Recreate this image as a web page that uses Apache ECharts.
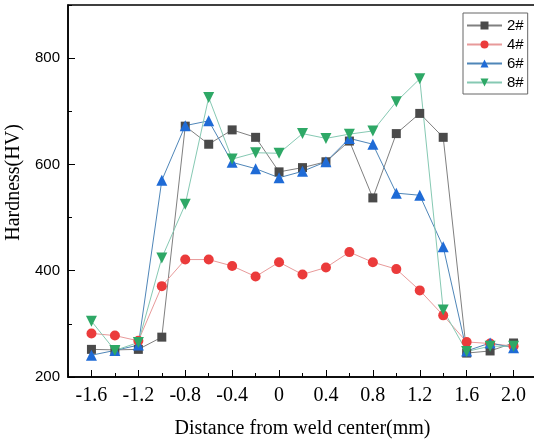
<!DOCTYPE html>
<html>
<head>
<meta charset="utf-8">
<script src="https://cdn.jsdelivr.net/npm/echarts@6/dist/echarts.min.js"></script>
<style>
  html, body { margin: 0; padding: 0; background: #fff; }
  #main { width: 534px; height: 442px; }
</style>
</head>
<body>
<div id="main"></div>
<script>
// distance from weld center (mm)
const xValues = [-1.6, -1.4, -1.2, -1.0, -0.8, -0.6, -0.4, -0.2, 0, 0.2, 0.4, 0.6, 0.8, 1.0, 1.2, 1.4, 1.6, 1.8, 2.0]
// hardness (HV)
const h2 = [252, 251, 252, 275, 672, 638, 665, 651, 586, 594, 605, 644, 537, 658, 696, 651, 245, 249, 264]
const h4 = [282, 278, 268, 371, 421, 421, 409, 389, 416, 393, 406, 435, 416, 403, 363, 316, 266, 263, 258]
const h6 = [241, 250, 260, 570, 673, 682, 604, 592, 575, 587, 605, 649, 638, 546, 542, 445, 249, 264, 255]
const h8 = [305, 250, 265, 424, 525, 726, 610, 622, 621, 658, 649, 657, 663, 718, 761, 326, 248, 258, 258]
const names = ['2#', '4#', '6#', '8#']
const xMajor = [-1.6, -1.2, -0.8, -0.4, 0, 0.4, 0.8, 1.2, 1.6, 2.0]
const yMajor = [200, 400, 600, 800]

const serif = 'Liberation Serif'
const sans = 'Liberation Sans'

const chart = echarts.init(document.getElementById('main'))

const gridBox = {left: 68, top: 5, right: -3, bottom: 65, outerBoundsMode: 'none', containLabel: false}

function makeSeries(name, vals, symbol, size, markColor, lineColor, rotate) {
  return {
    name: name,
    type: 'line',
    xAxisIndex: 0,
    yAxisIndex: 0,
    data: xValues.map((x, i) => [x, vals[i]]),
    symbol: symbol,
    symbolSize: size,
    symbolRotate: rotate || 0,
    showAllSymbol: true,
    itemStyle: {color: markColor},
    lineStyle: {color: lineColor, width: 1},
    emphasis: {disabled: true},
    animation: false
  }
}

const option = {
  backgroundColor: '#fff',
  animation: false,
  grid: [
    Object.assign({show: true, borderColor: '#000', borderWidth: 1.5, backgroundColor: 'transparent'}, gridBox),
    Object.assign({}, gridBox)
  ],
  legend: {
    data: names,
    orient: 'vertical',
    left: 463,
    top: 13,
    itemWidth: 35,
    itemHeight: 10,
    itemGap: 4,
    padding: [5, 4, 4, 3],
    borderColor: '#666',
    borderWidth: 1,
    textStyle: {fontFamily: sans, fontSize: 15, lineHeight: 15, color: '#000'}
  },
  xAxis: [
    {
      type: 'value',
      gridIndex: 0,
      min: -1.8,
      max: 2.2,
      name: 'Distance from weld center(mm)',
      nameLocation: 'middle',
      nameGap: 42,
      nameTextStyle: {fontFamily: serif, fontSize: 20, color: '#000'},
      axisLine: {show: true, onZero: false, lineStyle: {color: '#000', width: 1.5}},
      axisTick: {show: true, inside: true, length: 7, customValues: xMajor, lineStyle: {color: '#000'}},
      axisLabel: {
        customValues: xMajor,
        margin: 9,
        fontFamily: serif,
        fontSize: 20,
        color: '#000',
        formatter: v => (v === 0 ? '0' : v.toFixed(1))
      },
      splitLine: {show: false}
    },
    {
      type: 'value',
      gridIndex: 1,
      min: -1.8,
      max: 2.2,
      interval: 0.2,
      axisLine: {show: false, onZero: false},
      axisTick: {show: true, inside: true, length: 4, lineStyle: {color: '#000'}},
      axisLabel: {show: false},
      splitLine: {show: false}
    }
  ],
  yAxis: [
    {
      type: 'value',
      gridIndex: 0,
      min: 200,
      max: 900,
      name: 'Hardness(HV)',
      nameLocation: 'middle',
      nameGap: 40,
      nameTextStyle: {fontFamily: serif, fontSize: 20, color: '#000', padding: [0, 0, 0, 17]},
      axisLine: {show: true, onZero: false, lineStyle: {color: '#000', width: 1.5}},
      axisTick: {show: true, inside: true, length: 7, customValues: yMajor, lineStyle: {color: '#000'}},
      axisLabel: {customValues: yMajor, margin: 8, fontFamily: sans, fontSize: 15, color: '#000'},
      splitLine: {show: false}
    },
    {
      type: 'value',
      gridIndex: 1,
      min: 200,
      max: 900,
      interval: 100,
      axisLine: {show: false, onZero: false},
      axisTick: {show: true, inside: true, length: 4, lineStyle: {color: '#000'}},
      axisLabel: {show: false},
      splitLine: {show: false}
    }
  ],
  series: [
    makeSeries('2#', h2, 'rect', 9, '#4a4a4a', '#808080'),
    makeSeries('4#', h4, 'circle', 10, '#eb3b3b', '#e89a9a'),
    makeSeries('6#', h6, 'triangle', 11, '#1f6bd6', '#4f86b8'),
    makeSeries('8#', h8, 'triangle', 11, '#2ea866', '#86c9b3', 180)
  ]
}

chart.setOption(option)
</script>
</body>
</html>
